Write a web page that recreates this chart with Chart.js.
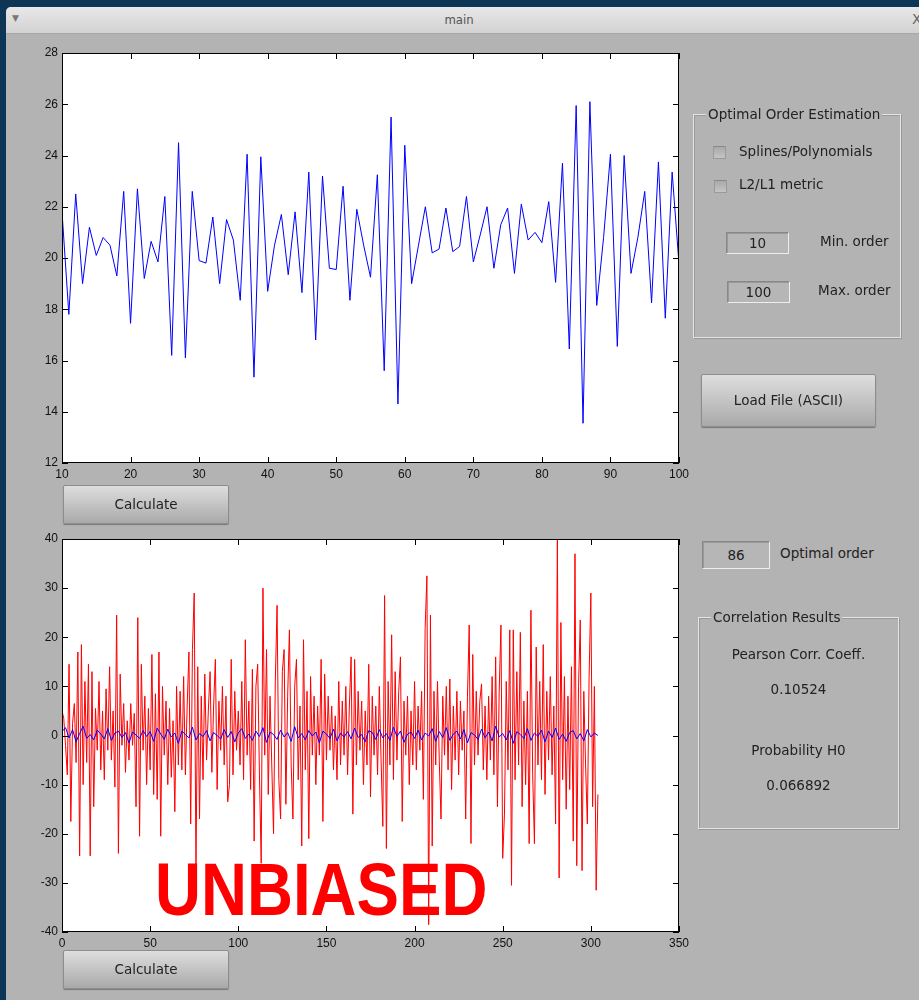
<!DOCTYPE html>
<html>
<head>
<meta charset="utf-8">
<script src="https://cdn.jsdelivr.net/npm/chart.js@4.4.1/dist/chart.umd.min.js"></script>
<style>
  html, body { margin: 0; padding: 0; }
  body { width: 919px; height: 1000px; background: #0d3556; position: relative; overflow: hidden; font-family: "DejaVu Sans", sans-serif; }
  #win { position: absolute; left: 6px; top: 7px; width: 920px; height: 1000px; background: #b3b3b3; border-top-left-radius: 5px; }
  #titlebar { position: absolute; left: 0; top: 0; right: 0; height: 26px; background: linear-gradient(#e8e8e8, #d2d2d2); border-top-left-radius: 5px; border-bottom: 1px solid #a8a8a8; }
  #titlebar .t { position: absolute; left: 0; width: 906px; top: 5px; text-align: center; font-size: 13px; color: #555; font-family: "DejaVu Sans Condensed", "DejaVu Sans", sans-serif; }
  #titlebar .m { position: absolute; left: 6px; top: 6px; font-size: 9px; color: #777; }
  #titlebar .x { position: absolute; left: 906px; top: 4px; font-size: 14px; color: #666; }
  canvas { position: absolute; }
  .btn { position: absolute; background: linear-gradient(#dedede, #a9a9a9); border: 1px solid #8d8d8d; border-radius: 2px; box-shadow: 0 1px 1px #777; color: #222; font-size: 13.5px; text-align: center; box-sizing: border-box; }
  .box { position: absolute; border: 1px solid #eee; border-top-color: #888; border-left-color: #888; box-shadow: inset 1px 1px 0 #999; background: #b6b6b6; color: #222; font-size: 13.5px; text-align: center; box-sizing: border-box; }
  .grp { position: absolute; border: 1px solid #e4e4e4; box-shadow: inset 1px 1px 0 #9a9a9a, 1px 1px 0 #999; box-sizing: border-box; }
  .grp .cap { position: absolute; top: -9px; background: #b3b3b3; padding: 0 2px; font-size: 13.5px; color: #222; white-space: nowrap; }
  .lbl { position: absolute; font-size: 13.5px; color: #222; white-space: nowrap; }
  .chk { position: absolute; width: 13px; height: 13px; box-sizing: border-box; border: 1px solid #999; border-top-color: #888; background: linear-gradient(#a9a9a9, #c4c4c4); }
  #unb { position: absolute; left: 155px; top: 850px; font-family: "Liberation Sans", Arial, sans-serif; font-weight: bold; font-size: 74px; line-height: 80px; color: #ff0000; transform: scaleX(0.86); transform-origin: left top; white-space: nowrap; }
</style>
</head>
<body>
<div id="win">
  <div id="titlebar"><span class="m">&#9660;</span><div class="t">main</div><span class="x">X</span></div>
</div>

<canvas id="topChart" width="700" height="450" style="left:0px; top:40px;"></canvas>
<canvas id="botChart" width="700" height="432" style="left:0px; top:526px;"></canvas>
<div id="unb">UNBIASED</div>

<div class="btn" style="left:63px; top:485px; width:166px; height:39px; line-height:37px;">Calculate</div>
<div class="btn" style="left:63px; top:950px; width:166px; height:39px; line-height:37px;">Calculate</div>

<div class="grp" style="left:693px; top:114px; width:208px; height:224px;">
  <span class="cap" style="left:12px;">Optimal Order Estimation</span>
</div>
<div class="chk" style="left:713px; top:146px;"></div>
<div class="lbl" style="left:739px; top:143px;">Splines/Polynomials</div>
<div class="chk" style="left:714px; top:180px;"></div>
<div class="lbl" style="left:739px; top:176px;">L2/L1 metric</div>
<div class="box" style="left:726px; top:232px; width:63px; height:22px; line-height:20px;">10</div>
<div class="lbl" style="left:820px; top:233px;">Min. order</div>
<div class="box" style="left:727px; top:281px; width:63px; height:22px; line-height:20px;">100</div>
<div class="lbl" style="left:818px; top:282px;">Max. order</div>
<div class="btn" style="left:701px; top:374px; width:175px; height:53px; line-height:51px;">Load File (ASCII)</div>

<div class="box" style="left:702px; top:541px; width:68px; height:28px; line-height:26px;">86</div>
<div class="lbl" style="left:780px; top:545px;">Optimal order</div>
<div class="grp" style="left:698px; top:617px; width:201px; height:212px;">
  <span class="cap" style="left:12px;">Correlation Results</span>
</div>
<div class="lbl" style="left:698px; width:201px; text-align:center; top:646px;">Pearson Corr. Coeff.</div>
<div class="lbl" style="left:698px; width:201px; text-align:center; top:681px;">0.10524</div>
<div class="lbl" style="left:698px; width:201px; text-align:center; top:742px;">Probability H0</div>
<div class="lbl" style="left:698px; width:201px; text-align:center; top:777px;">0.066892</div>

<script>
// serie de arriba (x = 10..100)
const topStart = 10;
const topValues = [
  21.8, 17.8, 22.5, 19.0, 21.2, 20.1, 20.8, 20.5, 19.3, 22.6,
  17.45, 22.7, 19.2, 20.65, 19.85, 22.4, 16.2, 24.5, 16.1, 22.6,
  19.9, 19.8, 21.6, 19.0, 21.5, 20.7, 18.35, 24.05, 15.35, 23.95,
  18.7, 20.5, 21.7, 19.35, 21.8, 18.65, 23.35, 16.8, 23.2, 19.6,
  19.55, 22.8, 18.35, 21.9, 20.5, 19.25, 23.25, 15.6, 25.5, 14.3,
  24.4, 19.0, 20.5, 22.0, 20.2, 20.35, 21.95, 20.25, 20.45, 22.4,
  19.85, 20.9, 22.0, 19.6, 21.3, 21.95, 19.4, 22.1, 20.7, 21.0,
  20.6, 22.2, 19.05, 23.7, 16.45, 25.95, 13.55, 26.1, 18.15, 20.8,
  24.05, 16.55, 24.0, 19.4, 20.8, 22.6, 18.25, 23.75, 17.65, 23.35,
  19.75
];
const topXTicks = [10, 20, 30, 40, 50, 60, 70, 80, 90, 100];
const topYTicks = [12, 14, 16, 18, 20, 22, 24, 26, 28];

// serie roja (x = 0..304)
const redValues = [
  5, 3.5, -2, -8, 14.5, -17.5, 2.5, 6.5, -5.5, 17,
  -24.5, 18.5, -10, 11, -5.5, 14.5, -24.5, 13, -14.5, 5.5,
  -3, 11, -7, 5, -9, 9.5, -3, 14, -5, 5,
  -10.5, 24.5, -24, 12.5, -2, 6.5, -7.5, 3, -5, 6.5,
  -2, 4.5, -14.5, 24, -20.5, 14.5, -3, 8, -10, 5.5,
  -7, 16.5, -12, 8.5, -13, 17, -20.5, 10, -4, 7,
  -10, 5.5, -8.5, 3, -15.5, 10, -6, 9, -7, 12,
  -8, 6, 17, -18, 17.5, 29, -27.5, 14, -17, 8,
  -9, 12.5, -5, 5, 13, -7.5, 6, 15.5, -11, 7,
  -3, 10, -6, 8, -13.5, -10, 15.5, -8, 9, -3,
  5, -6, 11, -9, 19.5, -4, 7, -11, 13.5, -21.5,
  10, 14.5, -8, -26, 30, -4, 17.5, -12, 8, -6,
  -20, 11, 26.5, -9, -17, 13, 17.5, -14, 8, 21.5,
  -6, -17, 10, 15.5, -9, 6, -22.5, 19.5, -7, 9,
  -21, 12, -4, 8, -10, 6, -4, 15.5, -17.5, 12.5,
  -5, 8, -3, 6, -7, 4, -9, 11, -6, 7,
  -4, 10, -8, 6, 16, -16, 15.5, -6, 9, -3,
  7, -10, 5, -6, 14.5, -12.5, 8, -4, 6, -8,
  10, -5, -18.5, 28.5, -23, 11, -6, 20.5, -9, 13,
  -5, 9, 16, -17.5, 7, -4, 8, -10, 5, -6,
  11, -7, 6, -3, 9, -13, 22, 32.5, -38.5, 24.5,
  -22.5, 9, -6, 11, -5, -17, 8, -4, 10, -7,
  11.5, -11, 6, -5, 9, -8, 7, -3, 5, -17,
  8, 22.5, -22, 16.5, -6, 9, -4, 7, 10.5, -7,
  6, -9, 8, -5, 12, -8, 16, -14.5, 9, 22.5,
  -25, -16, 11, -7, 21.5, -30.5, 21.5, -9, 13, -6,
  21, -14.5, 7, -10, 9, -22, 25.5, -8, -22, 18,
  -6, 11, -9, 18.5, -12, 9, -5, 12, -8, 6,
  -18, 40, -29, 23, -9, 12, -15, 8, -11, 14,
  -21.5, 37, -26.5, 10, 23.5, -27.5, 9, -6, -18, 12,
  29, -14.5, 10, -31.5, -12
];

// serie azul (x = 0, 2, 4, ... 304)
const blueStep = 2;
const blueValues = [
  0.8, 1.6, -0.5, 1.2, -1.3, 0.4, 1.9, -0.6, 0.2, -0.9,
  1.1, 0.3, -0.7, 1.4, -1.0, 0.5, 0.9, -0.4, 0.6, -1.5,
  0.7, 0.1, -0.6, 1.0, -0.2, 0.8, -1.2, 1.5, 0.3, -0.8,
  1.3, -0.3, 0.5, -1.6, 0.9, 0.2, -0.5, 1.7, -0.9, 0.4,
  -0.2, 1.0, -1.1, 0.6, 0.0, -0.7, 1.2, -0.4, 0.8, -1.3,
  0.5, 1.4, -0.6, 0.3, -1.0, 0.9, -0.2, 1.6, -1.4, 0.7,
  0.2, -0.8, 1.1, -0.3, 0.6, -1.2, 1.8, -0.5, 0.4, -0.9,
  1.0, -0.1, 0.7, -1.5, 0.9, 0.3, -0.6, 1.3, -1.1, 0.5,
  -0.3, 0.8, -0.7, 1.5, -0.4, 0.2, -1.3, 1.0, 0.6, -0.8,
  1.2, -0.5, 0.4, -1.0, 1.7, -0.2, 0.9, -1.4, 0.3, 0.7,
  -0.6, 1.1, -0.9, 0.5, -0.1, 1.4, -1.2, 0.8, -0.4, 1.6,
  -1.0, 0.3, 0.9, -0.7, 1.2, -1.5, 0.6, 0.1, -0.8, 1.3,
  -0.5, 0.7, -1.1, 1.9, -0.3, 0.4, -0.9, 1.0, -1.6, 0.8,
  0.2, -0.6, 1.4, -1.0, 0.5, -0.2, 1.1, -1.3, 0.9, -0.4,
  1.5, -0.8, 0.3, -1.2, 0.6, 1.0, -0.7, 0.4, -1.1, 1.2,
  -0.3, 0.5, 0.0
];
const botXTicks = [0, 50, 100, 150, 200, 250, 300, 350];
const botYTicks = [-40, -30, -20, -10, 0, 10, 20, 30, 40];

// marco negro y ticks hacia adentro (estilo MATLAB)
const matlabFrame = {
  id: 'matlabFrame',
  afterDraw(chart) {
    const { ctx, chartArea: a, scales } = chart;
    ctx.save();
    ctx.strokeStyle = '#000';
    ctx.lineWidth = 1;
    ctx.strokeRect(Math.round(a.left) + 0.5, Math.round(a.top) + 0.5, Math.round(a.right - a.left) - 1, Math.round(a.bottom - a.top) - 1);
    ctx.beginPath();
    scales.x.ticks.forEach(t => {
      const px = Math.round(scales.x.getPixelForValue(t.value)) + 0.5;
      ctx.moveTo(px, a.bottom); ctx.lineTo(px, a.bottom - 6);
      ctx.moveTo(px, a.top); ctx.lineTo(px, a.top + 6);
    });
    scales.y.ticks.forEach(t => {
      const py = Math.round(scales.y.getPixelForValue(t.value)) + 0.5;
      ctx.moveTo(a.left, py); ctx.lineTo(a.left + 6, py);
      ctx.moveTo(a.right, py); ctx.lineTo(a.right - 6, py);
    });
    ctx.stroke();
    ctx.restore();
  }
};

const whiteArea = {
  id: 'whiteArea',
  beforeDraw(chart) {
    const { ctx, chartArea: a } = chart;
    ctx.save();
    ctx.fillStyle = '#fff';
    ctx.fillRect(a.left, a.top, a.right - a.left, a.bottom - a.top);
    ctx.restore();
  }
};

function axisOpts(min, max, ticks, size) {
  return {
    type: 'linear',
    min: min,
    max: max,
    afterBuildTicks: s => { s.ticks = ticks.map(v => ({ value: v })); },
    afterFit: s => { if (s.isHorizontal()) s.height = size; else s.width = size; },
    grid: { display: false, drawTicks: false },
    border: { display: false },
    ticks: { color: '#111', font: { family: 'Liberation Sans', size: 12 }, padding: 4, autoSkip: false, maxRotation: 0 }
  };
}

const baseOpts = {
  responsive: false,
  animation: false,
  devicePixelRatio: 1,
  layout: { padding: { left: 20, right: 21, top: 13, bottom: 0 } },
  elements: { point: { radius: 0 }, line: { tension: 0 } },
  plugins: { legend: { display: false }, tooltip: { enabled: false } }
};

new Chart(document.getElementById('topChart'), {
  type: 'line',
  data: {
    datasets: [{
      data: topValues.map((v, i) => ({ x: topStart + i, y: v })),
      borderColor: '#0000ff',
      borderWidth: 1
    }]
  },
  options: Object.assign({}, baseOpts, {
    scales: { x: axisOpts(10, 100, topXTicks, 27), y: axisOpts(12, 28, topYTicks, 42) }
  }),
  plugins: [whiteArea, matlabFrame]
});

new Chart(document.getElementById('botChart'), {
  type: 'line',
  data: {
    datasets: [
      {
        data: blueValues.map((v, i) => ({ x: i * blueStep, y: v })),
        borderColor: '#0000ff',
        borderWidth: 1
      },
      {
        data: redValues.map((v, i) => ({ x: i, y: v })),
        borderColor: '#ff0000',
        borderWidth: 1
      }
    ]
  },
  options: Object.assign({}, baseOpts, {
    scales: { x: axisOpts(0, 350, botXTicks, 26), y: axisOpts(-40, 40, botYTicks, 42) }
  }),
  plugins: [whiteArea, matlabFrame]
});
</script>
</body>
</html>
